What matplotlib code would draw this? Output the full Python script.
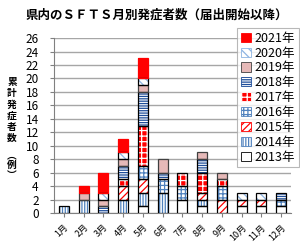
import matplotlib
matplotlib.use("Agg")
import matplotlib.pyplot as plt
import matplotlib.patches as mpatches
import numpy as np

plt.rcParams['font.family'] = ['Noto Sans CJK JP', 'DejaVu Sans']
plt.rcParams['hatch.linewidth'] = 0.9

months = ["1月", "2月", "3月", "4月", "5月", "6月", "7月", "8月", "9月", "10月", "11月", "12月"]
years = ["2013年", "2014年", "2015年", "2016年", "2017年", "2018年", "2019年", "2020年", "2021年"]
y2013 = [0, 0, 0, 0, 1, 0, 2, 1, 0, 1, 1, 1]
y2014 = [1, 2, 0, 2, 2, 3, 0, 1, 0, 0, 0, 0]
y2015 = [0, 0, 0, 2, 2, 0, 0, 1, 2, 1, 1, 0]
y2016 = [0, 0, 0, 0, 2, 2, 2, 0, 2, 0, 0, 1]
y2017 = [0, 0, 0, 1, 6, 0, 2, 3, 1, 0, 0, 0]
y2018 = [0, 0, 1, 2, 5, 1, 0, 2, 0, 0, 0, 1]
y2019 = [0, 1, 1, 1, 1, 2, 0, 1, 1, 0, 0, 0]
y2020 = [0, 0, 1, 1, 1, 0, 0, 0, 0, 1, 1, 0]
y2021 = [0, 1, 3, 2, 3, 0, 0, 0, 0, 0, 0, 0]
series = [y2013, y2014, y2015, y2016, y2017, y2018, y2019, y2020, y2021]
yticks = list(range(0, 27, 2))

# (facecolor, hatch, hatchcolor, bordercolor)
styles = [
    ("white", None, None, "black"),
    ("white", "||||||", "#4F81BD", "black"),
    ("white", "/////", "#FF0000", "black"),
    ("white", "++++", "#4F81BD", "black"),
    ("#FF0000", "+++", "white", "black"),
    ("white", "-------", "#1F4E9A", "black"),
    ("#E6B9B8", None, None, "#404040"),
    ("white", "\\\\\\\\", "#8DB4E2", "black"),
    ("#FF0000", None, None, "#FF0000"),
]

fig = plt.figure(figsize=(3.0, 2.49), dpi=100)
ax = fig.add_axes([0.18, 0.1446, 0.79, 0.7024])
x = np.arange(len(months))
w = 0.5
bottom = np.zeros(len(months))
handles = []
for vals, (fc, hatch, hc, bc), lab in zip(series, styles, years):
    v = np.array(vals, dtype=float)
    if hatch:
        ax.bar(x, v, w, bottom=bottom, color=fc, hatch=hatch, edgecolor=hc, linewidth=0, zorder=3)
    else:
        ax.bar(x, v, w, bottom=bottom, color=fc, linewidth=0, zorder=3)
    mask = v > 0
    ax.bar(x[mask], v[mask], w, bottom=bottom[mask], fill=False, edgecolor=bc, linewidth=0.9, zorder=4)
    bottom += v
    if hatch:
        handles.append(mpatches.Patch(facecolor=fc, hatch=hatch, edgecolor=hc, linewidth=0.6, label=lab))
    else:
        handles.append(mpatches.Patch(facecolor=fc, edgecolor=bc, linewidth=0.6, label=lab))

ax.set_xlim(-0.5, len(months) - 0.5)
ax.set_ylim(0, 26)
ax.set_yticks(yticks)
ax.set_yticklabels([str(t) for t in yticks], fontsize=8.5)
ax.set_xticks(x)
ax.set_xticklabels(months, fontsize=6.5, rotation=45, ha='right', va='top', rotation_mode='anchor')
ax.yaxis.grid(True, color='#A6A6A6', linewidth=1.0, zorder=0)
ax.set_axisbelow(True)
for s in ['top', 'right']:
    ax.spines[s].set_visible(False)
for s in ['left', 'bottom']:
    ax.spines[s].set_color('#808080')
    ax.spines[s].set_linewidth(0.8)
ax.tick_params(axis='y', length=3, pad=8, color='#808080')
ax.tick_params(axis='x', length=3, pad=4, color='#808080')

fig.text(0.085, 0.94, "県内のＳＦＴＳ月別発症者数（届出開始以降）", fontsize=9, fontweight='bold', va='center', ha='left')
fig.text(0.04, 0.558, "累\n計\n発\n症\n者\n数", fontsize=7, ha='center', va='center', linespacing=1.15, fontweight='bold')
fig.text(0.04, 0.337, "︵\n例\n︶", fontsize=7, ha='center', va='center', linespacing=1.0, fontweight='bold')

leg = fig.legend(handles=handles[::-1], loc='upper right', bbox_to_anchor=(0.995, 0.888),
                 fontsize=9, frameon=True, fancybox=False, edgecolor='#A6A6A6',
                 handlelength=0.75, handleheight=0.75, handletextpad=0.3, labelspacing=0.15,
                 borderpad=0.3, borderaxespad=0.0)
leg.get_frame().set_linewidth(0.8)

fig.savefig("out.png", dpi=100)
